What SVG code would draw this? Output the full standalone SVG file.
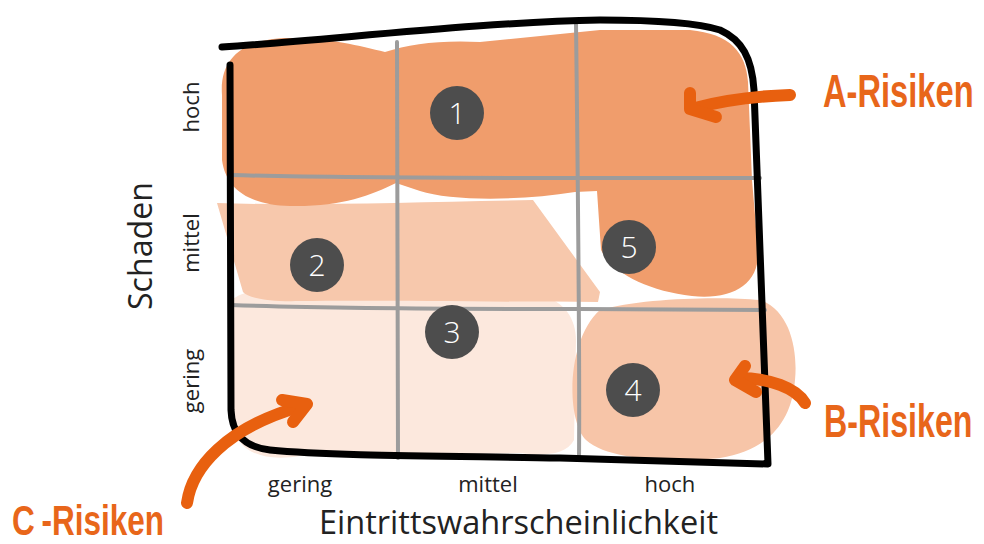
<svg xmlns="http://www.w3.org/2000/svg" width="984" height="544" viewBox="0 0 984 544">
<style>
.lbl{font-family:"Open Sans","DejaVu Sans",sans-serif;fill:#222;}
.sm{font-size:22px;}
.axis{font-size:33px;}
.risk{font-family:"Liberation Sans","Open Sans",sans-serif;font-weight:700;fill:#E8661A;}
.num circle{fill:#4D4D4D;}
.num text{font-family:"Open Sans","DejaVu Sans",sans-serif;font-weight:300;font-size:30px;fill:#fff;text-anchor:middle;}
.grid{fill:none;stroke:#9C9C9C;stroke-width:4;stroke-linecap:round;}
.frame{fill:none;stroke:#000;stroke-width:7;stroke-linecap:round;stroke-linejoin:round;}
.arr{fill:none;stroke:#E8600F;stroke-width:12;stroke-linecap:round;stroke-linejoin:round;}
</style>
<rect width="984" height="544" fill="#fff"/>
<g id="zones">
  <path id="zone-c" fill="#FCE8DD" d="M232,300 C245,288 290,284 330,289 C360,293 380,300 400,300 C420,290 460,289 490,294 L540,296 C565,300 576,320 576,340 L574,440 C566,456 540,456 520,453 L300,456 C262,462 236,452 232,422 Z"/>
  <path id="zone-b-band" fill="#F7C8AC" d="M217,203 C300,206 420,202 533,200 L600,292 L598,302 C500,302 380,300 300,301 C270,302 248,298 243,292 Z"/>
  <path id="zone-a" fill="#F09D6C" d="M222,95 C219,55 248,38 290,38 C330,38 360,46 385,52 C410,44 440,40 480,42 L600,30 L690,30 C730,34 746,52 748,82 L752,180 L758,250 C760,285 732,300 692,296 C650,291 614,275 601,250 L597,191 L575,192 C520,201 450,201 420,191 L396,183 C370,196 340,207 290,206 C250,205 226,190 222,160 Z"/>
  <path id="zone-b" fill="#F7C5A8" d="M600,310 C640,298 720,296 760,300 C790,310 798,350 795,380 C792,420 770,450 720,458 C680,462 610,462 586,440 C566,420 566,340 600,310 Z"/>
</g>
<g id="grid">
  <path class="grid" d="M397,42 C398,200 398,350 398,458"/>
  <path class="grid" d="M576,22 C578,200 580,350 579,459"/>
  <path class="grid" d="M231,175 C300,177 420,178 580,178 L760,178"/>
  <path class="grid" d="M231,305 C320,308 420,309 580,309 L765,310"/>
</g>
<g id="frame">
  <path class="frame" d="M222,47 C330,40 480,22 600,20 C650,20 695,22 720,30 C742,40 752,58 754,90 L768,464 L560,458 C450,456 330,456 270,450 C245,447 232,435 231,410 L230,65"/>
</g>
<g id="risk1" class="num"><circle cx="457" cy="113" r="27"/><text x="457" y="124">1</text></g>
<g id="risk2" class="num"><circle cx="317" cy="265" r="27"/><text x="317" y="276">2</text></g>
<g id="risk3" class="num"><circle cx="452" cy="332" r="27"/><text x="452" y="343">3</text></g>
<g id="risk4" class="num"><circle cx="633" cy="390" r="27"/><text x="633" y="401">4</text></g>
<g id="risk5" class="num"><circle cx="629" cy="247" r="27"/><text x="629" y="258">5</text></g>
<g id="connectors">
  <path class="arr" d="M790,95 C760,96 728,99 695,108"/>
  <path class="arr" d="M690,93 L690,109 L716,117"/>
  <path class="arr" d="M805,403 C796,388 770,378 738,378"/>
  <path class="arr" d="M745,366 L735,380 L756,392"/>
  <path class="arr" d="M187,503 C192,468 225,428 302,406"/>
  <path class="arr" d="M282,400 L307,404 L293,422"/>
</g>
<g id="label-a"><text class="risk" font-size="46" transform="translate(823,107) scale(0.71,1)">A-Risiken</text></g>
<g id="label-b"><text class="risk" font-size="46" transform="translate(824,437) scale(0.70,1)">B-Risiken</text></g>
<g id="label-c"><text class="risk" font-size="42" transform="translate(12,535) scale(0.75,1)">C<tspan dx="9">-Risiken</tspan></text></g>
<g id="axis-y">
  <text class="lbl axis" transform="translate(152,246) rotate(-90)" text-anchor="middle" textLength="128" lengthAdjust="spacingAndGlyphs">Schaden</text>
  <text class="lbl sm" transform="translate(199,107) rotate(-90)" text-anchor="middle">hoch</text>
  <text class="lbl sm" transform="translate(199,243) rotate(-90)" text-anchor="middle">mittel</text>
  <text class="lbl sm" transform="translate(199,381) rotate(-90)" text-anchor="middle">gering</text>
</g>
<g id="axis-x">
  <text class="lbl sm" x="300" y="492" text-anchor="middle">gering</text>
  <text class="lbl sm" x="488" y="492" text-anchor="middle">mittel</text>
  <text class="lbl sm" x="670" y="492" text-anchor="middle">hoch</text>
  <text class="lbl" font-size="32" x="319" y="534" textLength="399" lengthAdjust="spacingAndGlyphs">Eintrittswahrscheinlichkeit</text>
</g>
</svg>
